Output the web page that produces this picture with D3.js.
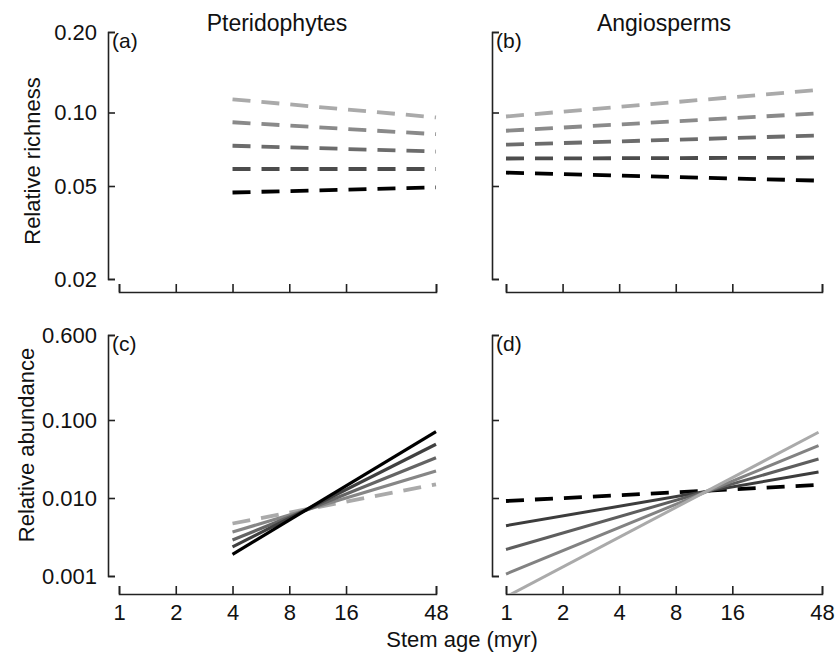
<!DOCTYPE html>
<html>
<head>
<meta charset="utf-8">
<script src="https://cdn.jsdelivr.net/npm/d3@7"></script>
<style>
  html, body { margin: 0; padding: 0; background: #fff; }
  svg { display: block; }
  text { font-family: "Liberation Sans", Arial, Helvetica, sans-serif; fill: #111; }
</style>
</head>
<body>
<svg id="chart" width="836" height="658"></svg>
<script>
// ---------------- data ----------------
const ageTicks = [1, 2, 4, 8, 16, 48];
const richnessTicks = [0.02, 0.05, 0.10, 0.20];
const abundanceTicks = [0.001, 0.010, 0.100, 0.600];

const pteridoAges = [4, 48];
const angioAges = [1, 46];

// each row: [value at first age, value at last age]
const pteridoRichness = [
  [0.112, 0.0955],
  [0.0912, 0.0815],
  [0.0731, 0.0692],
  [0.0587, 0.0587],
  [0.0469, 0.0493]
];
const angioRichness = [
  [0.0963, 0.1215],
  [0.0842, 0.0992],
  [0.0738, 0.0805],
  [0.0648, 0.0653],
  [0.0567, 0.0526]
];
const pteridoAbundance = [
  [0.00471, 0.0150],
  [0.00366, 0.0222],
  [0.00290, 0.0329],
  [0.00236, 0.0488],
  [0.00190, 0.0708]
];
const angioAbundance = [
  [0.00915, 0.0147],
  [0.00442, 0.0215],
  [0.00219, 0.0316],
  [0.00106, 0.0468],
  [0.00054, 0.0696]
];

const panelLetters = ["(a)", "(b)", "(c)", "(d)"];
const columnTitles = ["Pteridophytes", "Angiosperms"];

// ---------------- styles ----------------
const richColors = ["#aaaaaa", "#8a8a8a", "#6c6c6c", "#4c4c4c", "#000000"];
const richDashed = [true, true, true, true, true];
const pAbColors = ["#aaaaaa", "#868686", "#646464", "#404040", "#000000"];
const pAbDashed = [true, false, false, false, false];
const aAbColors = ["#000000", "#3c3c3c", "#5e5e5e", "#828282", "#aaaaaa"];
const aAbDashed = [true, false, false, false, false];

const svg = d3.select("#chart");
const FONT = 22;

const cols = [
  { axisX: 108, xr: [119, 436] },
  { axisX: 492, xr: [506, 822] }
];
const rows = [
  { axisY: 292, ydom: richnessTicks, yr: [279, 186, 112.5, 32], fmt: d3.format(".2f") },
  { axisY: 594, ydom: abundanceTicks, yr: [576, 498, 420, 335], fmt: d3.format(".3f") }
];

const panels = [
  { r: 0, c: 0, ages: pteridoAges, data: pteridoRichness, colors: richColors, dashed: richDashed, w: 3.5 },
  { r: 0, c: 1, ages: angioAges, data: angioRichness, colors: richColors, dashed: richDashed, w: 3.5 },
  { r: 1, c: 0, ages: pteridoAges, data: pteridoAbundance, colors: pAbColors, dashed: pAbDashed, w: 3.2 },
  { r: 1, c: 1, ages: angioAges, data: angioAbundance, colors: aAbColors, dashed: aAbDashed, w: 3.0 }
];

const defs = svg.append("defs");

panels.forEach((p, i) => {
  const col = cols[p.c], row = rows[p.r];
  const x = d3.scaleLog().domain([1, 48]).range(col.xr);
  const y = d3.scaleLog().domain(row.ydom).range(row.yr);

  // clip to plot region (between axis lines)
  defs.append("clipPath").attr("id", "clip" + i)
    .append("rect")
    .attr("x", col.axisX).attr("y", row.yr[row.yr.length - 1] - 10)
    .attr("width", col.xr[1] + 10 - col.axisX)
    .attr("height", row.axisY - (row.yr[row.yr.length - 1] - 10));

  // y axis
  const yAxis = d3.axisLeft(y)
    .tickValues(row.ydom)
    .tickSizeInner(-7).tickSizeOuter(-7)
    .tickPadding(11)
    .tickFormat(p.c === 0 ? row.fmt : () => "");
  const gy = svg.append("g").attr("transform", `translate(${col.axisX},0)`).call(yAxis);

  // x axis
  const xAxis = d3.axisBottom(x)
    .tickValues(ageTicks)
    .tickSizeInner(-8).tickSizeOuter(-8)
    .tickPadding(10)
    .tickFormat(p.r === 1 ? d3.format("d") : () => "");
  const gx = svg.append("g").attr("transform", `translate(0,${row.axisY})`).call(xAxis);

  [gx, gy].forEach(g => {
    g.select(".domain").attr("stroke", "#222").attr("stroke-width", 1.6);
    g.selectAll(".tick line").attr("stroke", "#222").attr("stroke-width", 1.6);
    g.selectAll(".tick text").attr("font-size", FONT)
      .attr("font-family", '"Liberation Sans", Arial, sans-serif').attr("fill", "#111");
  });

  // lines
  const line = d3.line().x(d => x(d[0])).y(d => y(d[1]));
  const g = svg.append("g").attr("clip-path", `url(#clip${i})`);
  p.data.forEach((vals, k) => {
    const pts = p.ages.map((a, j) => [a, vals[j]]);
    g.append("path")
      .attr("d", line(pts))
      .attr("fill", "none")
      .attr("stroke", p.colors[k])
      .attr("stroke-width", p.dashed[k] ? 3.8 : p.w)
      .attr("stroke-dasharray", p.dashed[k] ? "18,11" : null);
  });

  // panel letter
  svg.append("text")
    .attr("x", col.axisX + 4)
    .attr("y", row.yr[row.yr.length - 1] + 16)
    .attr("font-size", 21)
    .text(panelLetters[i]);
});

// column titles
svg.append("text").attr("x", 277).attr("y", 31).attr("text-anchor", "middle")
  .attr("font-size", 23).text(columnTitles[0]);
svg.append("text").attr("x", 664).attr("y", 31).attr("text-anchor", "middle")
  .attr("font-size", 23).text(columnTitles[1]);

// y axis titles
svg.append("text").attr("transform", "translate(40,161) rotate(-90)")
  .attr("text-anchor", "middle").attr("font-size", FONT).text("Relative richness");
svg.append("text").attr("transform", "translate(34,445) rotate(-90)")
  .attr("text-anchor", "middle").attr("font-size", FONT).text("Relative abundance");

// x axis title
svg.append("text").attr("x", 462).attr("y", 647).attr("text-anchor", "middle")
  .attr("font-size", FONT).text("Stem age (myr)");
</script>
</body>
</html>
